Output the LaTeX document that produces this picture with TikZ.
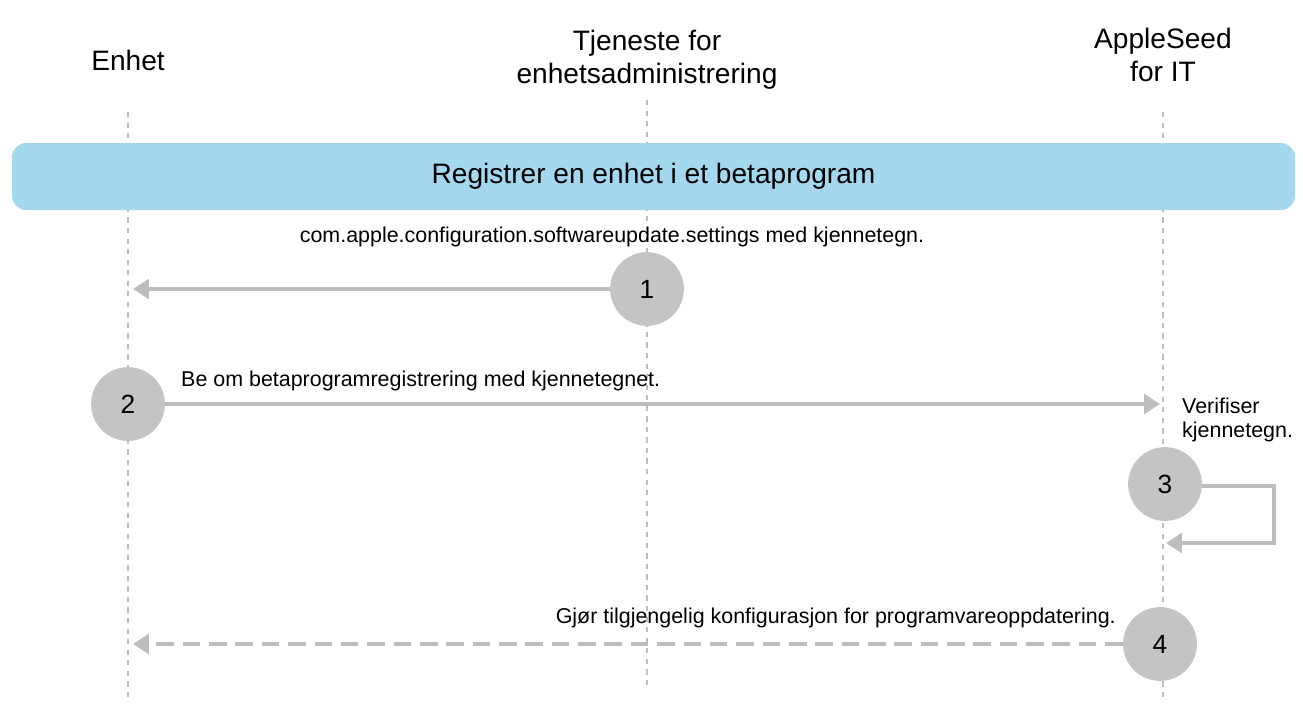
\documentclass[tikz,border=0pt]{standalone}
\usepackage{fontspec}
\setmainfont{Liberation Sans}
\usetikzlibrary{arrows.meta}
\definecolor{banner}{HTML}{A3D8EF}
\definecolor{stepgray}{HTML}{C4C4C4}
\definecolor{linegray}{HTML}{BDBDBD}
\begin{document}
\begin{tikzpicture}[x=0.02cm,y=-0.02cm]
      \tikzstyle{life} = [draw=linegray,dashed,line width=0.8pt]
      \tikzstyle{msg}  = [-{Triangle[length=9pt,width=11pt]},draw=linegray,line width=2.4pt]
      \tikzstyle{num}  = [circle,fill=stepgray,minimum size=42pt,font=\fontsize{15}{17}\selectfont]
      \tikzstyle{head} = [align=center,font=\fontsize{16}{19}\selectfont]
      \tikzstyle{lbl}  = [font=\fontsize{12.2}{14}\selectfont]

      \useasboundingbox (0,0) rectangle (1303,708);

      \node[head] (dev) at (128,60) {Enhet};
      \node[head] (mdm) at (647,60) {Tjeneste for\\enhetsadministrering};
      \node[head] (asi) at (1163,55) {AppleSeed\\for IT};

      \coordinate (devtop) at (128,112);
      \coordinate (devbot) at (128,697);
      \coordinate (mdmtop) at (647,100);
      \coordinate (mdmbot) at (647,690);
      \coordinate (asitop) at (1163,112);
      \coordinate (asibot) at (1163,697);
      \draw[life] (devtop) -- (devbot);
      \draw[life] (mdmtop) -- (mdmbot);
      \draw[life] (asitop) -- (asibot);

      \node[fill=banner,rounded corners=8pt,minimum width=1283*0.02cm,minimum height=67*0.02cm,
            font=\fontsize{16}{19}\selectfont] (title) at (653.5,176.5) {Registrer en enhet i et betaprogram};

      \node[num] (n1) at (647,289) {1};
      \node[num] (n2) at (128,404) {2};
      \node[num] (n3) at (1165,484) {3};
      \node[num] (n4) at (1160,644) {4};

      \coordinate (e1) at (133,289);
      \coordinate (e2) at (1160,404);
      \coordinate (l3a) at (1274,486);
      \coordinate (l3b) at (1274,543);
      \coordinate (e3) at (1166,543);
      \coordinate (e4) at (133,644);

      \draw[msg] (n1) -- (e1);
      \draw[msg] (n2) -- (e2);
      \draw[msg] (n3.east |- l3a) -- (l3a) -- (l3b) -- (e3);
      \draw[msg,dashed,dash pattern=on 10pt off 5pt] (n4) -- (e4);

      \node[lbl] (t1) at (612,237) {com.apple.configuration.softwareupdate.settings med kjennetegn.};
      \node[lbl,anchor=west] (t2) at (175,381) {Be om betaprogramregistrering med kjennetegnet.};
      \node[lbl,anchor=west,align=left] (t3) at (1176,420) {Verifiser\\kjennetegn.};
      \node[lbl,anchor=east] (t4) at (1122,618) {Gjør tilgjengelig konfigurasjon for programvareoppdatering.};
\end{tikzpicture}
\end{document}
